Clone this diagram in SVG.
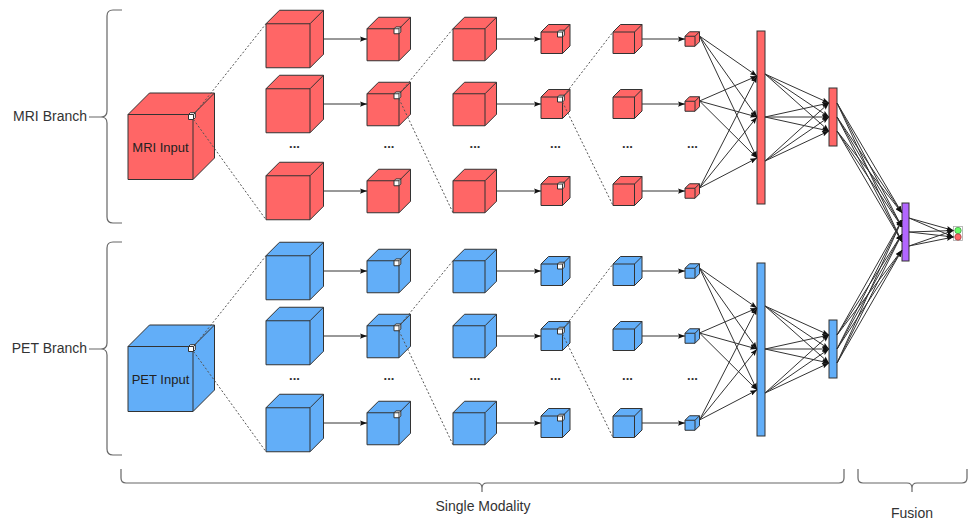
<svg xmlns="http://www.w3.org/2000/svg" xmlns:xlink="http://www.w3.org/1999/xlink" width="972" height="521" viewBox="0 0 972 521">
<style>
  .red { fill: #FF6666; }
  .blue { fill: #62AEF8; }
  .white { fill: #FFFFFF; }
  .face { stroke: #333333; stroke-width: 1; stroke-linejoin: round; }
  .edge { fill: none; stroke: #333333; stroke-width: 1; }
  .bar { stroke: #333333; stroke-width: 1; }
  .arrow { fill: none; stroke: #333333; stroke-width: 1; marker-end: url(#ah); }
  .dash { fill: none; stroke: #555555; stroke-width: 1; stroke-dasharray: 2 2; }
  .brace { fill: none; stroke: #666666; stroke-width: 1.2; }
  .lbl { font-family: "Liberation Sans", Arial, sans-serif; font-size: 14px; fill: #333333; }
  .in { font-family: "Liberation Sans", Arial, sans-serif; font-size: 13px; fill: #222222; text-anchor: middle; }
  .dots { font-family: "Liberation Sans", Arial, sans-serif; font-size: 13px; font-weight: bold; fill: #333333; text-anchor: middle; }
</style>
<defs>
  <marker id="ah" viewBox="0 0 8 6" refX="8" refY="3" markerWidth="7" markerHeight="5.5" markerUnits="userSpaceOnUse" orient="auto">
    <path d="M0,0 L8,3 L0,6 L1.5,3 Z" fill="#111111"/>
  </marker>
  <g id="cubeIn"><polygon class="face" points="0,65 0,0 21.5,-21.5 86.5,-21.5 86.5,43.5 65,65"/><path class="edge" d="M0,0 H65 L86.5,-21.5 M65,0 V65"/></g>
  <g id="cube1"><polygon class="face" points="0,44 0,0 13.5,-13.5 57.5,-13.5 57.5,30.5 44,44"/><path class="edge" d="M0,0 H44 L57.5,-13.5 M44,0 V44"/></g>
  <g id="cube2"><polygon class="face" points="0,32 0,0 11.5,-11.5 43.5,-11.5 43.5,20.5 32,32"/><path class="edge" d="M0,0 H32 L43.5,-11.5 M32,0 V32"/></g>
  <g id="cube4"><polygon class="face" points="0,21.5 0,0 7.5,-7.5 29,-7.5 29,14 21.5,21.5"/><path class="edge" d="M0,0 H21.5 L29,-7.5 M21.5,0 V21.5"/></g>
  <g id="cube6"><polygon class="face" points="0,10 0,0 4.5,-4.5 14.5,-4.5 14.5,5.5 10,10"/><path class="edge" d="M0,0 H10 L14.5,-4.5 M10,0 V10"/></g>
  <g id="wsq"><polygon class="face" style="fill:#FFFFFF" points="0,5 0,0 1.8,-1.8 6.8,-1.8 6.8,3.2 5,5"/><path class="edge" d="M0,0 H5 L6.8,-1.8 M5,0 V5"/></g>
</defs>
<rect width="972" height="521" fill="#FFFFFF"/>

<!-- braces and labels -->
<g id="mri-branch">
  <path class="brace" d="M122,10 L113,10 Q107,10 107,16 L107,111 Q107,117 101,117 L89,117 M101,117 Q107,117 107,123 L107,217 Q107,223 113,223 L122,223"/>
  <text class="lbl" x="87" y="121" text-anchor="end">MRI Branch</text>
</g>
<g id="pet-branch">
  <path class="brace" d="M122,242 L113,242 Q107,242 107,248 L107,343 Q107,349 101,349 L89,349 M101,349 Q107,349 107,355 L107,449 Q107,455 113,455 L122,455"/>
  <text class="lbl" x="87" y="353" text-anchor="end">PET Branch</text>
</g>
<g id="single-modality">
  <path class="brace" d="M121,469 L121,478 Q121,483 126,483 L477,483 Q482,483 482,488 L482,492 M482,488 Q482,483 487,483 L839,483 Q844,483 844,478 L844,469"/>
  <text class="lbl" x="483" y="511" text-anchor="middle">Single Modality</text>
</g>
<g id="fusion">
  <path class="brace" d="M858,469 L858,478 Q858,483 863,483 L907,483 Q912,483 912,488 L912,492 M912,488 Q912,483 917,483 L962,483 Q967,483 967,478 L967,469"/>
  <text class="lbl" x="912" y="518" text-anchor="middle">Fusion</text>
</g>

<!-- MRI nodes -->
<g id="mri-input" class="red">
  <use xlink:href="#cubeIn" x="128" y="114.5"/>
  <text class="in" x="160.5" y="151.5">MRI Input</text>
  <use xlink:href="#wsq" x="188.5" y="114.5"/>
</g>
<g id="mri-c1-r1" class="red"><use xlink:href="#cube1" x="266" y="23.75"/></g>
<g id="mri-c1-r2" class="red"><use xlink:href="#cube1" x="266" y="88.75"/></g>
<g id="mri-c1-r3" class="red"><use xlink:href="#cube1" x="266" y="175.75"/></g>
<g id="mri-c2-r1" class="red"><use xlink:href="#cube2" x="367" y="28.75"/><use xlink:href="#wsq" x="394" y="28.75"/></g>
<g id="mri-c2-r2" class="red"><use xlink:href="#cube2" x="367" y="93.75"/><use xlink:href="#wsq" x="394" y="93.75"/></g>
<g id="mri-c2-r3" class="red"><use xlink:href="#cube2" x="367" y="180.75"/><use xlink:href="#wsq" x="394" y="180.75"/></g>
<g id="mri-c3-r1" class="red"><use xlink:href="#cube2" x="453" y="28.75"/></g>
<g id="mri-c3-r2" class="red"><use xlink:href="#cube2" x="453" y="93.75"/></g>
<g id="mri-c3-r3" class="red"><use xlink:href="#cube2" x="453" y="180.75"/></g>
<g id="mri-c4-r1" class="red"><use xlink:href="#cube4" x="541" y="32"/><use xlink:href="#wsq" x="557.5" y="32"/></g>
<g id="mri-c4-r2" class="red"><use xlink:href="#cube4" x="541" y="97"/><use xlink:href="#wsq" x="557.5" y="97"/></g>
<g id="mri-c4-r3" class="red"><use xlink:href="#cube4" x="541" y="184"/><use xlink:href="#wsq" x="557.5" y="184"/></g>
<g id="mri-c5-r1" class="red"><use xlink:href="#cube4" x="613" y="32"/></g>
<g id="mri-c5-r2" class="red"><use xlink:href="#cube4" x="613" y="97"/></g>
<g id="mri-c5-r3" class="red"><use xlink:href="#cube4" x="613" y="184"/></g>
<g id="mri-c6-r1" class="red"><use xlink:href="#cube6" x="685" y="36.25"/></g>
<g id="mri-c6-r2" class="red"><use xlink:href="#cube6" x="685" y="101.25"/></g>
<g id="mri-c6-r3" class="red"><use xlink:href="#cube6" x="685" y="188.25"/></g>
<g id="mri-dots">
  <text class="dots" x="294.5" y="148">...</text>
  <text class="dots" x="389" y="148">...</text>
  <text class="dots" x="475" y="148">...</text>
  <text class="dots" x="555.5" y="148">...</text>
  <text class="dots" x="627.5" y="148">...</text>
  <text class="dots" x="692.5" y="148">...</text>
</g>
<g id="mri-fc1"><rect class="red bar" x="757" y="31" width="8" height="173"/></g>
<g id="mri-fc2"><rect class="red bar" x="829" y="88" width="8" height="58"/></g>

<!-- PET nodes -->
<g id="pet-input" class="blue">
  <use xlink:href="#cubeIn" x="128" y="346.5"/>
  <text class="in" x="160.5" y="383.5">PET Input</text>
  <use xlink:href="#wsq" x="188.5" y="346.5"/>
</g>
<g id="pet-c1-r1" class="blue"><use xlink:href="#cube1" x="266" y="255.75"/></g>
<g id="pet-c1-r2" class="blue"><use xlink:href="#cube1" x="266" y="320.75"/></g>
<g id="pet-c1-r3" class="blue"><use xlink:href="#cube1" x="266" y="407.75"/></g>
<g id="pet-c2-r1" class="blue"><use xlink:href="#cube2" x="367" y="260.75"/><use xlink:href="#wsq" x="394" y="260.75"/></g>
<g id="pet-c2-r2" class="blue"><use xlink:href="#cube2" x="367" y="325.75"/><use xlink:href="#wsq" x="394" y="325.75"/></g>
<g id="pet-c2-r3" class="blue"><use xlink:href="#cube2" x="367" y="412.75"/><use xlink:href="#wsq" x="394" y="412.75"/></g>
<g id="pet-c3-r1" class="blue"><use xlink:href="#cube2" x="453" y="260.75"/></g>
<g id="pet-c3-r2" class="blue"><use xlink:href="#cube2" x="453" y="325.75"/></g>
<g id="pet-c3-r3" class="blue"><use xlink:href="#cube2" x="453" y="412.75"/></g>
<g id="pet-c4-r1" class="blue"><use xlink:href="#cube4" x="541" y="264"/><use xlink:href="#wsq" x="557.5" y="264"/></g>
<g id="pet-c4-r2" class="blue"><use xlink:href="#cube4" x="541" y="329"/><use xlink:href="#wsq" x="557.5" y="329"/></g>
<g id="pet-c4-r3" class="blue"><use xlink:href="#cube4" x="541" y="416"/><use xlink:href="#wsq" x="557.5" y="416"/></g>
<g id="pet-c5-r1" class="blue"><use xlink:href="#cube4" x="613" y="264"/></g>
<g id="pet-c5-r2" class="blue"><use xlink:href="#cube4" x="613" y="329"/></g>
<g id="pet-c5-r3" class="blue"><use xlink:href="#cube4" x="613" y="416"/></g>
<g id="pet-c6-r1" class="blue"><use xlink:href="#cube6" x="685" y="268.25"/></g>
<g id="pet-c6-r2" class="blue"><use xlink:href="#cube6" x="685" y="333.25"/></g>
<g id="pet-c6-r3" class="blue"><use xlink:href="#cube6" x="685" y="420.25"/></g>
<g id="pet-dots">
  <text class="dots" x="294.5" y="380">...</text>
  <text class="dots" x="389" y="380">...</text>
  <text class="dots" x="475" y="380">...</text>
  <text class="dots" x="555.5" y="380">...</text>
  <text class="dots" x="627.5" y="380">...</text>
  <text class="dots" x="692.5" y="380">...</text>
</g>
<g id="pet-fc1"><rect class="blue bar" x="757" y="263" width="8" height="173"/></g>
<g id="pet-fc2"><rect class="blue bar" x="829" y="320" width="8" height="58"/></g>

<!-- fusion nodes -->
<g id="fusion-fc"><rect class="bar" fill="#B266FF" x="902" y="203" width="7" height="58"/></g>
<g id="output">
  <rect x="953.5" y="226.5" width="9" height="14" fill="#FFFFFF" stroke="#AAAAAA" stroke-width="0.8"/>
  <circle cx="958" cy="230.5" r="3.2" fill="#66FF66" stroke="#4D9A4D" stroke-width="0.8"/>
  <circle cx="958" cy="237" r="3.2" fill="#FF6666" stroke="#A04545" stroke-width="0.8"/>
</g>

<!-- connectors -->
<g id="connectors">
  <!-- dashed receptive field lines MRI -->
  <line class="dash" x1="195.3" y1="112.7" x2="266" y2="23.75"/>
  <line class="dash" x1="193.5" y1="119.5" x2="266" y2="219.75"/>
  <line class="dash" x1="400.8" y1="91.95" x2="453" y2="28.75"/>
  <line class="dash" x1="399" y1="98.75" x2="453" y2="212.75"/>
  <line class="dash" x1="564.3" y1="95.2" x2="613" y2="32"/>
  <line class="dash" x1="562.5" y1="102" x2="613" y2="205.5"/>
  <!-- dashed PET -->
  <line class="dash" x1="195.3" y1="344.7" x2="266" y2="255.75"/>
  <line class="dash" x1="193.5" y1="351.5" x2="266" y2="451.75"/>
  <line class="dash" x1="400.8" y1="323.95" x2="453" y2="260.75"/>
  <line class="dash" x1="399" y1="330.75" x2="453" y2="444.75"/>
  <line class="dash" x1="564.3" y1="327.2" x2="613" y2="264"/>
  <line class="dash" x1="562.5" y1="334" x2="613" y2="437.5"/>

  <!-- horizontal arrows MRI -->
  <line class="arrow" x1="323.5" y1="39" x2="367" y2="39"/>
  <line class="arrow" x1="323.5" y1="104" x2="367" y2="104"/>
  <line class="arrow" x1="323.5" y1="191" x2="367" y2="191"/>
  <line class="arrow" x1="496.5" y1="39" x2="541" y2="39"/>
  <line class="arrow" x1="496.5" y1="104" x2="541" y2="104"/>
  <line class="arrow" x1="496.5" y1="191" x2="541" y2="191"/>
  <line class="arrow" x1="642" y1="39" x2="685" y2="39"/>
  <line class="arrow" x1="642" y1="104" x2="685" y2="104"/>
  <line class="arrow" x1="642" y1="191" x2="685" y2="191"/>
  <!-- horizontal arrows PET -->
  <line class="arrow" x1="323.5" y1="271" x2="367" y2="271"/>
  <line class="arrow" x1="323.5" y1="336" x2="367" y2="336"/>
  <line class="arrow" x1="323.5" y1="423" x2="367" y2="423"/>
  <line class="arrow" x1="496.5" y1="271" x2="541" y2="271"/>
  <line class="arrow" x1="496.5" y1="336" x2="541" y2="336"/>
  <line class="arrow" x1="496.5" y1="423" x2="541" y2="423"/>
  <line class="arrow" x1="642" y1="271" x2="685" y2="271"/>
  <line class="arrow" x1="642" y1="336" x2="685" y2="336"/>
  <line class="arrow" x1="642" y1="423" x2="685" y2="423"/>

  <!-- MRI cubes to FC1 -->
  <line class="arrow" x1="699.5" y1="36" x2="757" y2="76"/>
  <line class="arrow" x1="699.5" y1="36" x2="757" y2="117"/>
  <line class="arrow" x1="699.5" y1="36" x2="757" y2="158"/>
  <line class="arrow" x1="699.5" y1="101" x2="757" y2="76"/>
  <line class="arrow" x1="699.5" y1="101" x2="757" y2="117"/>
  <line class="arrow" x1="699.5" y1="101" x2="757" y2="158"/>
  <line class="arrow" x1="699.5" y1="188" x2="757" y2="76"/>
  <line class="arrow" x1="699.5" y1="188" x2="757" y2="117"/>
  <line class="arrow" x1="699.5" y1="188" x2="757" y2="158"/>
  <!-- PET cubes to FC1 -->
  <line class="arrow" x1="699.5" y1="268" x2="757" y2="308"/>
  <line class="arrow" x1="699.5" y1="268" x2="757" y2="349"/>
  <line class="arrow" x1="699.5" y1="268" x2="757" y2="390"/>
  <line class="arrow" x1="699.5" y1="333" x2="757" y2="308"/>
  <line class="arrow" x1="699.5" y1="333" x2="757" y2="349"/>
  <line class="arrow" x1="699.5" y1="333" x2="757" y2="390"/>
  <line class="arrow" x1="699.5" y1="420" x2="757" y2="308"/>
  <line class="arrow" x1="699.5" y1="420" x2="757" y2="349"/>
  <line class="arrow" x1="699.5" y1="420" x2="757" y2="390"/>

  <!-- MRI FC1 to FC2 -->
  <line class="arrow" x1="765" y1="74" x2="829" y2="103"/>
  <line class="arrow" x1="765" y1="74" x2="829" y2="117"/>
  <line class="arrow" x1="765" y1="74" x2="829" y2="131"/>
  <line class="arrow" x1="765" y1="117" x2="829" y2="103"/>
  <line class="arrow" x1="765" y1="117" x2="829" y2="117"/>
  <line class="arrow" x1="765" y1="117" x2="829" y2="131"/>
  <line class="arrow" x1="765" y1="161" x2="829" y2="103"/>
  <line class="arrow" x1="765" y1="161" x2="829" y2="117"/>
  <line class="arrow" x1="765" y1="161" x2="829" y2="131"/>
  <!-- PET FC1 to FC2 -->
  <line class="arrow" x1="765" y1="306" x2="829" y2="335"/>
  <line class="arrow" x1="765" y1="306" x2="829" y2="349"/>
  <line class="arrow" x1="765" y1="306" x2="829" y2="363"/>
  <line class="arrow" x1="765" y1="349" x2="829" y2="335"/>
  <line class="arrow" x1="765" y1="349" x2="829" y2="349"/>
  <line class="arrow" x1="765" y1="349" x2="829" y2="363"/>
  <line class="arrow" x1="765" y1="393" x2="829" y2="335"/>
  <line class="arrow" x1="765" y1="393" x2="829" y2="349"/>
  <line class="arrow" x1="765" y1="393" x2="829" y2="363"/>

  <!-- MRI FC2 to fusion -->
  <line class="arrow" x1="837" y1="103" x2="902" y2="213"/>
  <line class="arrow" x1="837" y1="103" x2="902" y2="227"/>
  <line class="arrow" x1="837" y1="103" x2="902" y2="242"/>
  <line class="arrow" x1="837" y1="117" x2="902" y2="213"/>
  <line class="arrow" x1="837" y1="117" x2="902" y2="227"/>
  <line class="arrow" x1="837" y1="117" x2="902" y2="242"/>
  <line class="arrow" x1="837" y1="131" x2="902" y2="213"/>
  <line class="arrow" x1="837" y1="131" x2="902" y2="227"/>
  <line class="arrow" x1="837" y1="131" x2="902" y2="242"/>
  <!-- PET FC2 to fusion -->
  <line class="arrow" x1="837" y1="335" x2="902" y2="220"/>
  <line class="arrow" x1="837" y1="335" x2="902" y2="234"/>
  <line class="arrow" x1="837" y1="335" x2="902" y2="250"/>
  <line class="arrow" x1="837" y1="349" x2="902" y2="220"/>
  <line class="arrow" x1="837" y1="349" x2="902" y2="234"/>
  <line class="arrow" x1="837" y1="349" x2="902" y2="250"/>
  <line class="arrow" x1="837" y1="363" x2="902" y2="220"/>
  <line class="arrow" x1="837" y1="363" x2="902" y2="234"/>
  <line class="arrow" x1="837" y1="363" x2="902" y2="250"/>

  <!-- fusion to output -->
  <line class="arrow" x1="909" y1="218" x2="953.5" y2="230.5"/>
  <line class="arrow" x1="909" y1="218" x2="953.5" y2="237"/>
  <line class="arrow" x1="909" y1="232" x2="953.5" y2="230.5"/>
  <line class="arrow" x1="909" y1="232" x2="953.5" y2="237"/>
  <line class="arrow" x1="909" y1="246" x2="953.5" y2="230.5"/>
  <line class="arrow" x1="909" y1="246" x2="953.5" y2="237"/>
</g>
</svg>
